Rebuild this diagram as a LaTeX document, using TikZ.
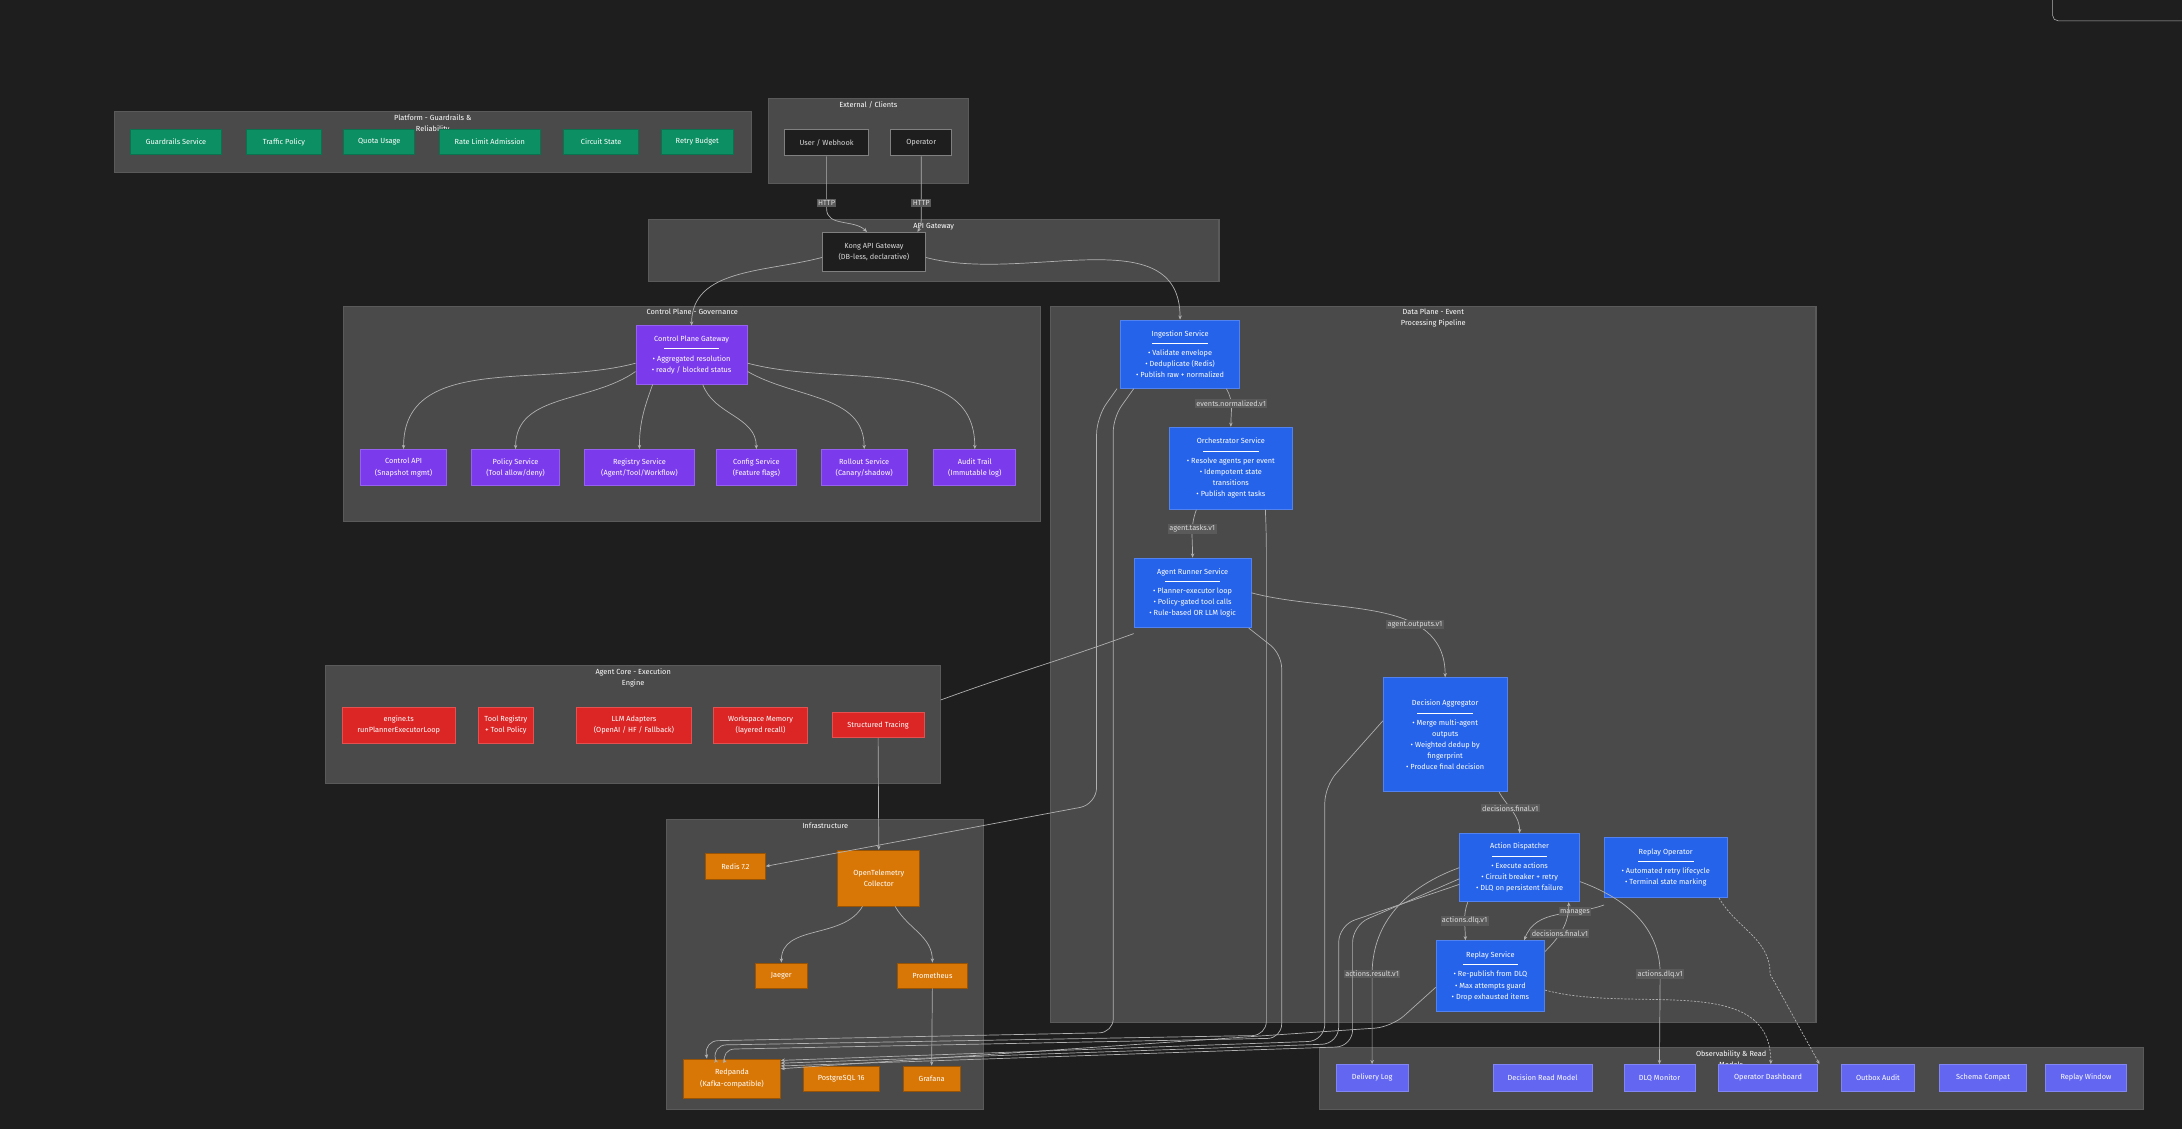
\documentclass[tikz,border=0pt]{standalone}
\usepackage{fontspec}
\setmainfont{Fira Sans}
\usetikzlibrary{arrows.meta}
\definecolor{bg}{HTML}{1E1E1E}
\definecolor{cl}{HTML}{4A4A4A}
\definecolor{clb}{HTML}{5A5A5A}
\definecolor{gr}{HTML}{0C8F62}
\definecolor{pu}{HTML}{7C3AED}
\definecolor{bl}{HTML}{2563EB}
\definecolor{rd}{HTML}{DC2626}
\definecolor{og}{HTML}{D97706}
\definecolor{ind}{HTML}{6366F1}
\definecolor{ln}{HTML}{B0B0B0}
\newcommand\bx[7]{\node[#6,minimum width={(#4-#2)*1pt},minimum height={(#5-#3)*1pt}] (#1) at ({(#2+#4)/2},{(#3+#5)/2}) {#7};}
\newcommand\clu[6]{\draw[clus] (#1,#2) rectangle (#3,#4); \node[ctitle] (#5) at ({(#1+#3)/2},#2) {#6};}
\newcommand\hr{\\[-1pt]\rule[1.5pt]{40pt}{0.5pt}\\[-1pt]}
\tikzset{x=1pt,y=-1pt,
 base/.style={draw,inner sep=0pt,align=center,text=white,font=\fontsize{5.3}{8}\selectfont,line width=0.6pt},
 gn/.style={base,fill=gr,draw=gr!80!black},
 pn/.style={base,fill=pu,draw=pu!80!white},
 bn/.style={base,fill=bl,draw=bl!80!white},
 rn/.style={base,fill=rd,draw=rd!80!white},
 on/.style={base,fill=og,draw=og!70!black},
 ixn/.style={base,fill=ind,draw=ind!80!white},
 kn/.style={base,fill=bg,draw=gray,text=white!85!black},
 clus/.style={fill=cl,draw=clb,line width=0.8pt},
 ctitle/.style={anchor=north,inner sep=2pt,align=center,text=white,font=\fontsize{5.3}{8}\selectfont},
 e/.style={draw=ln,line width=0.5pt,-{Stealth[length=3pt,width=2.5pt]}},
 ed/.style={e,dash pattern=on 1.5pt off 1pt},
 lb/.style={fill=clb,text=white!85!black,inner sep=1pt,font=\fontsize{5.3}{6}\selectfont},
}
\begin{document}
\begin{tikzpicture}
\fill[bg] (0,0) rectangle (1568,811);
\useasboundingbox (0,0) rectangle (1568,811);
\draw[gray!60,rounded corners=4] (1475,-10) rectangle (1575,15);
% clusters
\clu{82}{80}{540}{124}{cP}{Platform - Guardrails \&\\Reliability}
\clu{552}{71}{696}{132}{cE}{External / Clients}
\clu{466}{158}{876}{202}{cA}{API Gateway}
\clu{247}{220}{748}{375}{cC}{Control Plane - Governance}
\clu{755}{220}{1305}{735}{cD}{Data Plane - Event\\Processing Pipeline}
\clu{234}{478}{676}{563}{cG}{Agent Core - Execution\\Engine}
\clu{479}{589}{707}{797}{cI}{Infrastructure}
\clu{948}{753}{1540}{797}{cO}{Observability \& Read\\Models}
\coordinate (agc) at (676,503);
% platform
\bx{g1}{94}{93}{159}{111}{gn}{Guardrails Service}
\bx{g2}{177}{93}{231}{111}{gn}{Traffic Policy}
\bx{g3}{247}{93}{298}{111}{gn}{Quota Usage}
\bx{g4}{316}{93}{388}{111}{gn}{Rate Limit Admission}
\bx{g5}{405}{93}{459}{111}{gn}{Circuit State}
\bx{g6}{475}{93}{527}{111}{gn}{Retry Budget}
% external
\bx{user}{564}{93}{624}{112}{kn}{User / Webhook}
\bx{op}{640}{93}{684}{112}{kn}{Operator}
\bx{kong}{591}{167}{665}{195}{kn}{Kong API Gateway\\(DB-less, declarative)}
% control plane
\bx{cpg}{457}{234}{537}{276}{pn}{Control Plane Gateway\hr • Aggregated resolution\\• ready / blocked status}
\bx{c1}{259}{323}{321}{349}{pn}{Control API\\(Snapshot mgmt)}
\bx{c2}{339}{323}{402}{349}{pn}{Policy Service\\(Tool allow/deny)}
\bx{c3}{420}{323}{499}{349}{pn}{Registry Service\\(Agent/Tool/Workflow)}
\bx{c4}{515}{323}{572}{349}{pn}{Config Service\\(Feature flags)}
\bx{c5}{590}{323}{652}{349}{pn}{Rollout Service\\(Canary/shadow)}
\bx{c6}{671}{323}{730}{349}{pn}{Audit Trail\\(Immutable log)}
% data plane
\bx{ing}{805}{230}{891}{279}{bn}{Ingestion Service\hr • Validate envelope\\• Deduplicate (Redis)\\• Publish raw + normalized}
\bx{orc}{840}{307}{929}{366}{bn}{Orchestrator Service\hr • Resolve agents per event\\• Idempotent state\\transitions\\• Publish agent tasks}
\bx{ar}{815}{401}{899}{451}{bn}{Agent Runner Service\hr • Planner-executor loop\\• Policy-gated tool calls\\• Rule-based OR LLM logic}
\bx{da}{994}{487}{1083}{569}{bn}{Decision Aggregator\hr • Merge multi-agent\\outputs\\• Weighted dedup by\\fingerprint\\• Produce final decision}
\bx{ad}{1049}{599}{1135}{648}{bn}{Action Dispatcher\hr • Execute actions\\• Circuit breaker + retry\\• DLQ on persistent failure}
\bx{ro}{1153}{602}{1241}{645}{bn}{Replay Operator\hr • Automated retry lifecycle\\• Terminal state marking}
\bx{rs}{1032}{676}{1110}{727}{bn}{Replay Service\hr • Re-publish from DLQ\\• Max attempts guard\\• Drop exhausted items}
% agent core
\bx{r1}{246}{508}{327}{534}{rn}{engine.ts\\runPlannerExecutorLoop}
\bx{r2}{344}{508}{383}{534}{rn}{Tool Registry\\+ Tool Policy}
\bx{r3}{414}{508}{497}{534}{rn}{LLM Adapters\\(OpenAI / HF / Fallback)}
\bx{r4}{513}{508}{580}{534}{rn}{Workspace Memory\\(layered recall)}
\bx{r5}{598}{512}{664}{530}{rn}{Structured Tracing}
% infra
\bx{redis}{507}{613}{550}{632}{on}{Redis 7.2}
\bx{otel}{602}{611}{661}{651}{on}{OpenTelemetry\\Collector}
\bx{jae}{543}{692}{580}{710}{on}{Jaeger}
\bx{prom}{645}{692}{695}{710}{on}{Prometheus}
\bx{rp}{491}{761}{561}{789}{on}{Redpanda\\(Kafka-compatible)}
\bx{pg}{577}{766}{632}{784}{on}{PostgreSQL 16}
\bx{graf}{649}{766}{690}{784}{on}{Grafana}
% observability
\bx{o1}{960}{765}{1012}{784}{ixn}{Delivery Log}
\bx{o2}{1073}{765}{1144}{784}{ixn}{Decision Read Model}
\bx{o3}{1167}{765}{1218}{784}{ixn}{DLQ Monitor}
\bx{o4}{1235}{765}{1306}{784}{ixn}{Operator Dashboard}
\bx{o5}{1323}{765}{1376}{784}{ixn}{Outbox Audit}
\bx{o6}{1394}{765}{1456}{784}{ixn}{Schema Compat}
\bx{o7}{1470}{765}{1528}{784}{ixn}{Replay Window}
% edges
\draw[e] (user.south) -- (594,150) to[out=-90,in=135] ([xshift=-5]kong.north);
\draw[e] (op.south) -- (662,150) to[out=-90,in=60] ([xshift=-6]kong.north east);
\node[lb] at (594,146) {HTTP};
\node[lb] at (662,146) {HTTP};
\draw[e] ([yshift=-4]kong.west) to[out=195,in=90] (497,234);
\draw[e] ([yshift=-4]kong.east) to[out=-15,in=90] (ing.north);
\draw[e] ([yshift=-6]cpg.west) to[out=195,in=90] (c1.north);
\draw[e] ([yshift=-12]cpg.west) to[out=215,in=90] (c2.north);
\draw[e] ([xshift=-28]cpg.south) to[out=-110,in=90] (c3.north);
\draw[e] ([xshift=8]cpg.south) to[out=-70,in=90] (c4.north);
\draw[e] ([yshift=-12]cpg.east) to[out=-30,in=90] (c5.north);
\draw[e] ([yshift=-6]cpg.east) to[out=-15,in=90] (c6.north);
\draw[e] ([xshift=-10]ing.south east) to[out=-60,in=90] node[lb,pos=0.4]{events.normalized.v1} (orc.north);
\draw[e] ([xshift=20]orc.south west) to[out=-110,in=90] node[lb,pos=0.4]{agent.tasks.v1} (ar.north);
\draw[e] (ar.east) to[out=-15,in=90] node[lb,pos=0.68]{agent.outputs.v1} (da.north);
\draw[e] ([xshift=-6]da.south east) to[out=-60,in=90] node[lb,pos=0.4]{decisions.final.v1} (ad.north);
\draw[e] ([xshift=6]ad.south west) to[out=-110,in=90] node[lb,pos=0.5]{actions.dlq.v1} ([xshift=-18]rs.north);
\draw[e] ([yshift=-5]ro.south west) to[out=200,in=70] node[lb,pos=0.3]{manages} ([xshift=-15]rs.north east);
\draw[e] ([yshift=-8]rs.north east) to[out=45,in=-90] node[lb,pos=0.4]{decisions.final.v1} ([xshift=-8]ad.south east);
\draw[e] (ad.west) to[out=200,in=90] (986,700) node[lb]{actions.result.v1} -- (o1.north);
\draw[e] ([yshift=-10]ad.east) to[out=-20,in=90] (1193,700) node[lb]{actions.dlq.v1} -- (o3.north);
\draw[ed] ([xshift=-6]ro.south east) to[out=-60,in=90] (1272,700) -- ([xshift=37]o4.north);
\draw[ed] ([yshift=-10]rs.east) to[out=-15,in=90] ([xshift=2]o4.north);
\draw[draw=ln,line width=0.5pt] ([yshift=-4]ar.south west) to[out=200,in=20] (agc);
\draw[e] (r5.south) -- (otel.north);
\draw[e,rounded corners=12] ([xshift=-2]ing.south west) -- (788,300) -- (788,578) -- (redis.east);
\draw[e] (prom.south) -- (graf.north);
\draw[e] (otel.240) to[out=-120,in=90] (jae.north);
\draw[e] (otel.300) to[out=-60,in=90] (prom.north);
% to redpanda
\draw[e,rounded corners=10] ([xshift=10]ing.south west) -- (800,300) -- (800,742) -- (506,748) -- ([xshift=-18]rp.north);
\draw[e,rounded corners=10] ([xshift=-20]orc.south east) -- (910,385) -- (910,744) -- (512,751) -- ([xshift=-12]rp.north);
\draw[e,rounded corners=10] ([xshift=-2]ar.south east) -- (921,470) -- (921,746) -- (518,754) -- ([xshift=-6]rp.north);
\draw[e,rounded corners=12] ([yshift=10]da.west) -- (952,565) -- (952,748) -- (561,762);
\draw[e,rounded corners=12] ([yshift=-12]ad.west) -- (962,665) -- (962,750) -- (561,764);
\draw[e,rounded corners=12] ([yshift=-8]ad.west) -- (972,665) -- (972,752) -- (561,766);
\draw[e,rounded corners=12] ([yshift=-8]rs.west) -- (1000,738) -- (561,768);
\end{tikzpicture}
\end{document}
